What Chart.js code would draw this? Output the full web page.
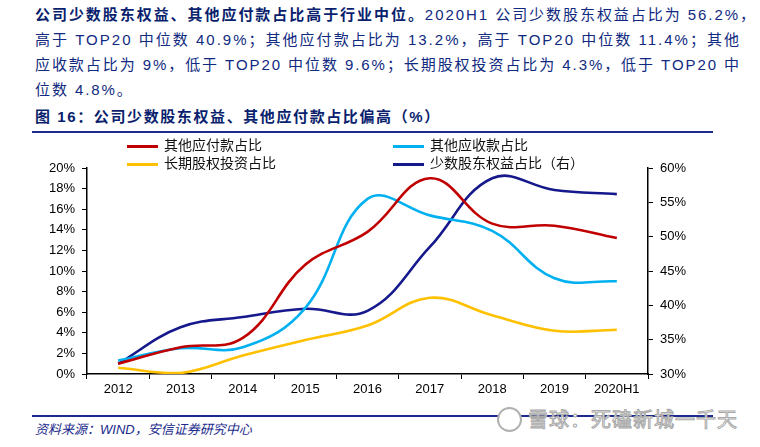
<!DOCTYPE html>
<html lang="zh">
<head>
<meta charset="UTF-8">
<title>公司少数股东权益、其他应付款占比偏高</title>
<script src="https://cdn.jsdelivr.net/npm/chart.js"></script>
<style>
  body { margin: 0; background: #fff; }
  #page { position: relative; width: 760px; height: 447px; overflow: hidden; font-family: "Liberation Sans", "Noto Sans CJK SC", sans-serif; color: #0f2a80; }
  .line { position: absolute; left: 35px; font-size: 15px; line-height: 25px; white-space: nowrap; }
  b { color: #0a1f6e; }
  #title { position: absolute; left: 35px; top: 105px; font-size: 15px; font-weight: bold; letter-spacing: 1.6px; color: #0a1f6e; }
  .rule { position: absolute; left: 32px; width: 681px; height: 2px; background: #1b2a8c; }
  #legend { position: absolute; left: 0; top: 0; font-family: "Noto Sans CJK SC", sans-serif; font-size: 14px; color: #111; }
  .item { position: absolute; height: 18px; line-height: 18px; white-space: nowrap; }
  .swatch { display: inline-block; width: 31px; height: 3px; vertical-align: middle; margin-right: 6px; }
  #source { position: absolute; left: 35px; top: 419px; font-size: 13px; font-style: italic; color: #1b2a8c; }
  #wm { position: absolute; left: 497px; top: 404px; font-family: "Noto Sans CJK SC", sans-serif; font-size: 20px; line-height: 29px; color: #fff; -webkit-text-stroke: 1px #a8a8a8; letter-spacing: 1px; white-space: nowrap; }
  #wm .ico { display: inline-block; width: 21px; height: 21px; border: 2px solid #b0b0b0; border-radius: 50%; vertical-align: -5px; margin-right: 6px; background: #fff; }
  #wrap { position: absolute; left: 0; top: 150px; width: 760px; height: 250px; }
</style>
</head>
<body>
<div id="page">
  <div class="line" id="p1" style="top:2px"><b>公司少数股东权益、其他应付款占比高于行业中位。</b>2020H1 公司少数股东权益占比为 56.2%，</div>
  <div class="line" id="p2" style="top:27px">高于 TOP20 中位数 40.9%；其他应付款占比为 13.2%，高于 TOP20 中位数 11.4%；其他</div>
  <div class="line" id="p3" style="top:52px">应收款占比为 9%，低于 TOP20 中位数 9.6%；长期股权投资占比为 4.3%，低于 TOP20 中</div>
  <div class="line" id="p4" style="top:77px">位数 4.8%。</div>
  <div id="title">图 16：公司少数股东权益、其他应付款占比偏高（%）</div>
  <div class="rule" style="top:131px"></div>

  <div id="wrap"><canvas id="chart"></canvas></div>
  <div id="legend"></div>

  <div class="rule" style="top:415px"></div>
  <div id="source">资料来源：WIND，安信证券研究中心</div>
  <div id="wm"><span class="ico"></span>雪球：死磕新城一千天</div>
</div>

<script>
  // 数据
  const years = ['2012', '2013', '2014', '2015', '2016', '2017', '2018', '2019', '2020H1'];
  const otherPayable = [1.0, 2.6, 3.5, 10.6, 13.8, 19.0, 14.6, 14.4, 13.2];
  const otherReceivable = [1.3, 2.5, 2.6, 6.4, 17.0, 15.4, 13.9, 9.3, 9.0];
  const longTermEquity = [0.6, 0.1, 1.8, 3.3, 4.7, 7.4, 5.7, 4.2, 4.3];
  const minorityEquity = [31.5, 36.8, 38.3, 39.5, 39.2, 48.5, 58.5, 56.8, 56.2];
  const leftTicks = [0, 20, 2];
  const rightTicks = [30, 60, 5];

  // 正文每行撑满到原图的行宽
  function fitLine(id, width) {
    const el = document.getElementById(id);
    const n = Array.from(el.textContent).length;
    el.style.letterSpacing = '0px';
    const w = el.getBoundingClientRect().width;
    const ls = (width - w) / n;
    el.style.letterSpacing = ls + 'px';
    return ls;
  }
  fitLine('p1', 722);
  fitLine('p2', 706);
  const ls3 = fitLine('p3', 706);
  document.getElementById('p4').style.letterSpacing = ls3 + 'px';

  const ds = (label, data, color, axis) => ({
    label: label, data: data, borderColor: color, backgroundColor: color,
    borderWidth: 2.6, pointRadius: 0, tension: 0.4, fill: false, yAxisID: axis
  });

  const tickFont = { family: 'Liberation Sans', size: 13 };
  const axisGrid = { drawOnChartArea: false, drawTicks: true, tickLength: 5, color: '#000', lineWidth: 1 };
  const axisBorder = { display: true, color: '#000', width: 1.5 };

  const chart = new Chart(document.getElementById('chart'), {
    type: 'line',
    data: {
      labels: years,
      datasets: [
        ds('其他应付款占比', otherPayable, '#c00000', 'y'),
        ds('其他应收款占比', otherReceivable, '#00b0f0', 'y'),
        ds('长期股权投资占比', longTermEquity, '#ffc000', 'y'),
        ds('少数股东权益占比（右）', minorityEquity, '#16198c', 'y1')
      ]
    },
    options: {
      responsive: true,
      maintainAspectRatio: false,
      animation: false,
      layout: { padding: { top: 18, left: 0, right: 0, bottom: 0 } },
      plugins: { legend: { display: false }, tooltip: { enabled: false } },
      scales: {
        x: {
          offset: true,
          grid: Object.assign({}, axisGrid, { offset: true }),
          border: axisBorder,
          ticks: { color: '#000', font: tickFont, padding: 3, maxRotation: 0 },
          afterFit: s => { s.height = 26; }
        },
        y: {
          position: 'left',
          min: leftTicks[0], max: leftTicks[1],
          grid: axisGrid, border: axisBorder,
          ticks: { stepSize: leftTicks[2], color: '#000', font: tickFont, padding: 7, callback: v => v + '%' },
          afterFit: s => { s.width = 87; }
        },
        y1: {
          position: 'right',
          min: rightTicks[0], max: rightTicks[1],
          grid: axisGrid, border: axisBorder,
          ticks: { stepSize: rightTicks[2], color: '#000', font: tickFont, padding: 7, callback: v => v + '%' },
          afterFit: s => { s.width = 112; }
        }
      }
    }
  });

  // 图例：两列两行，从数据集生成
  const legendPos = [[127, 135], [393, 135], [127, 153], [393, 153]];
  const legend = document.getElementById('legend');
  chart.data.datasets.forEach((d, i) => {
    const el = document.createElement('div');
    el.className = 'item';
    el.style.left = legendPos[i][0] + 'px';
    el.style.top = legendPos[i][1] + 'px';
    el.innerHTML = '<span class="swatch" style="background:' + d.borderColor + '"></span>' + d.label;
    legend.appendChild(el);
  });
</script>
</body>
</html>
